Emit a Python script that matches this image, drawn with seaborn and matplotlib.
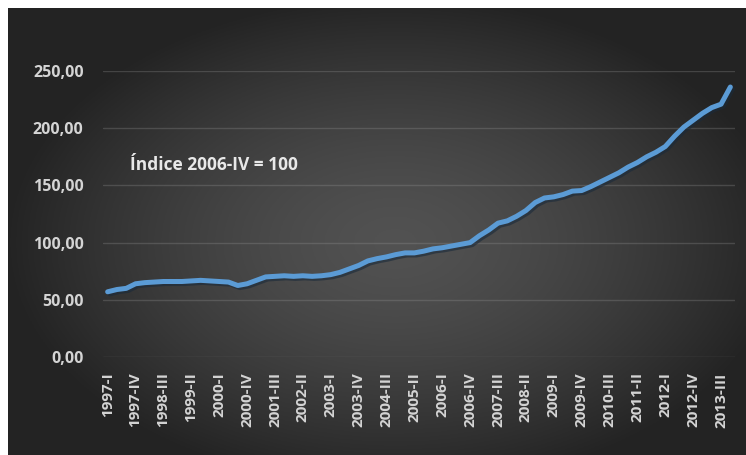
import numpy as np
import pandas as pd
import matplotlib
matplotlib.use("Agg")
import matplotlib.pyplot as plt
import matplotlib.patheffects as pe
import seaborn as sns

# ---- data ----
years = list(range(1997, 2014))
quarter_names = ["I", "II", "III", "IV"]
quarters = [f"{y}-{q}" for y in years for q in quarter_names]

index_values = [
    57, 59, 60, 64,          # 1997
    65, 65.5, 66, 66,        # 1998
    66, 66.5, 67, 66.5,      # 1999
    66, 65.5, 62.5, 64,      # 2000
    67, 70, 70.5, 71,        # 2001
    70.5, 71, 70.5, 71,      # 2002
    72, 74, 77, 80,          # 2003
    84, 86, 87.5, 89.5,      # 2004
    91, 91, 92.5, 94.5,      # 2005
    95.5, 97, 98.5, 100,     # 2006
    106, 111, 117, 119,      # 2007
    123, 128, 135, 139,      # 2008
    140, 142, 145, 145.5,    # 2009
    149, 153, 157, 161,      # 2010
    166, 170, 175, 179,      # 2011
    184, 193, 201, 207,      # 2012
    213, 218, 221, 236,      # 2013
]
y_ticks = [0, 50, 100, 150, 200, 250]
annotation = "Índice 2006-IV = 100"

df = pd.DataFrame({"pos": range(len(quarters)), "quarter": quarters, "valor": index_values})

# ---- figure ----
sns.set_theme(style="dark")
plt.rcParams["font.family"] = ["Open Sans", "DejaVu Sans"]

W, H = 746, 455
fig = plt.figure(figsize=(W / 100, H / 100), dpi=100, facecolor="white")

# dark radial-gradient background panel
bg = fig.add_axes([8 / W, 0, (W - 8) / W, (H - 8) / H])
gx, gy = np.meshgrid(np.linspace(-1, 1, 400), np.linspace(-1, 1, 250))
r = np.sqrt(((gx - 0.05) / 1.05) ** 2 + ((gy + 0.05) / 1.1) ** 2)
r = np.clip(r, 0, 1)
c_center, c_edge = 0.32, 0.14
shade = c_center + (c_edge - c_center) * r ** 1.5
img = np.dstack([shade, shade, shade])
bg.imshow(img, aspect="auto", extent=[0, 1, 0, 1], origin="lower")
bg.set_axis_off()

ax = fig.add_axes([103 / W, 1 - 357 / H, (735 - 103) / W, (357 - 71) / H])
ax.set_facecolor("none")

sns.lineplot(data=df, x="pos", y="valor", ax=ax, color="#5b9bd5", linewidth=3.6,
             path_effects=[pe.SimpleLineShadow(offset=(1.5, -1.5), shadow_color="#1a2a3a", alpha=0.6),
                           pe.Normal()])

ax.set_xlim(-0.5, len(quarters) - 0.5)
ax.set_ylim(0, 250)
ax.set_yticks(y_ticks)
ax.set_yticklabels([f"{v:.2f}".replace(".", ",") for v in y_ticks])
tick_pos = list(range(0, len(quarters), 3))
ax.set_xticks(tick_pos)
ax.set_xticklabels([quarters[i] for i in tick_pos], rotation=90)

ax.grid(axis="y", color="#9a9a9a", alpha=0.28, linewidth=1)
ax.grid(axis="x", visible=False)
for s in ax.spines.values():
    s.set_visible(False)
ax.tick_params(axis="y", length=0, pad=14, labelsize=11.5, labelcolor="#d4d4d4")
ax.tick_params(axis="x", length=0, pad=11, labelsize=11, labelcolor="#d4d4d4")
for lab in ax.get_xticklabels() + ax.get_yticklabels():
    lab.set_fontweight("bold")
ax.set_xlabel("")
ax.set_ylabel("")

ax.text(2.4, 168, annotation, color="#e8e8e8", fontsize=12.5, fontweight="bold",
        va="center", ha="left")

fig.savefig("out.png", dpi=100, facecolor="white")
